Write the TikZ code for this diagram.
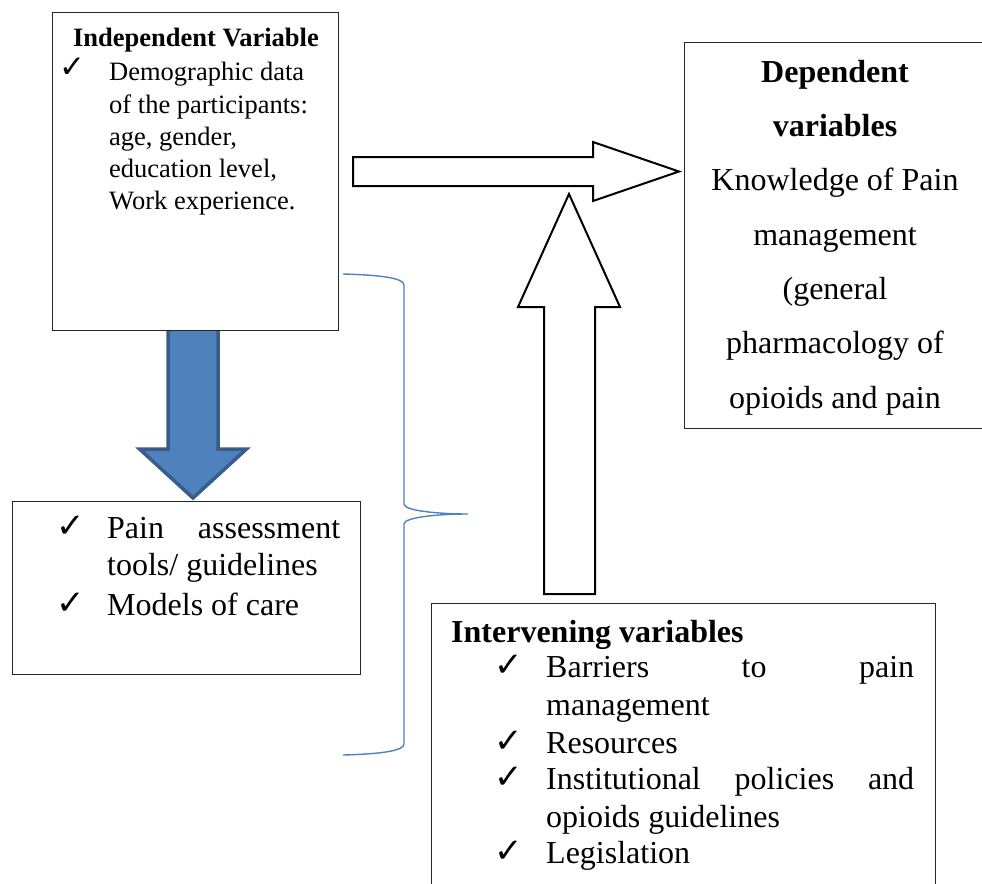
\documentclass[tikz,border=0pt]{standalone}
\usepackage{fontspec}
\setmainfont{Liberation Serif}
\newfontfamily\checkfont{DejaVu Sans}
\usetikzlibrary{calc}
\definecolor{accentblue}{HTML}{4F81BD}
\definecolor{accentdark}{HTML}{385D8A}
\begin{document}
\begin{tikzpicture}[x=1pt,y=-1pt,
  frame/.style={draw=black!85, line width=0.9pt, fill=white, inner sep=0pt},
  body/.style={inner sep=0pt, anchor=base west, font=\fontsize{32}{38}\selectfont},
  bodybold/.style={inner sep=0pt, anchor=base west, font=\fontsize{32}{38}\selectfont\bfseries},
  small/.style={inner sep=0pt, anchor=base west, font=\fontsize{26.5}{32}\selectfont},
  smallbold/.style={inner sep=0pt, anchor=base, font=\fontsize{26.5}{32}\selectfont\bfseries},
  tick/.style={inner sep=0pt, anchor=center, font=\checkfont\fontsize{34}{34}\selectfont},
  smalltick/.style={tick, font=\checkfont\fontsize{31}{31}\selectfont},
  hollow/.style={draw=black, line width=2pt, fill=white, line join=miter},
  bluearrow/.style={draw=accentdark, line width=3.5pt, fill=accentblue, line join=miter},
  brace/.style={draw=accentblue, line width=1.4pt}]
\useasboundingbox (0,0) rectangle (982,883);

% blue block arrow between the two left boxes (drawn first, boxes cover its ends)
\draw[bluearrow] (168,326) -- (168,449) -- (139.5,449) -- (193,498) -- (246.5,449) -- (218,449) -- (218,326) -- cycle;

% boxes
\node[frame, anchor=north west, minimum width=286pt, minimum height=318pt] (indep) at (52,12) {};
\node[frame, anchor=north west, minimum width=297.5pt, minimum height=386pt] (dep) at (684,42) {};
\node[frame, anchor=north west, minimum width=348pt, minimum height=173pt] (tools) at (12,501) {};
\node[frame, anchor=north west, minimum width=504pt, minimum height=310pt] (inter) at (431,603) {};

% hollow arrow towards the dependent variables
\coordinate (rTail) at (353,171.5);
\coordinate (rTip) at (679,171.5);
\draw[hollow] (rTail) ++(0,-14.5) -- ++(240,0) -- ++(0,-15) -- (rTip) -- ++(-86,29.5) -- ++(0,-15) -- ++(-240,0) -- cycle;

% hollow arrow rising from the intervening variables
\coordinate (uTail) at (569.5,594);
\coordinate (uTip) at (569,194);
\draw[hollow] (544,594) -- (544,307) -- (518,307) -- (uTip) -- (620,307) -- (595,307) -- (595,594) -- cycle;

% curly brace
\draw[brace] (343,274) .. controls (380,275) and (404,278) .. (404,285)
  -- (404,504) .. controls (404,511) and (440,514) .. (468,514)
  .. controls (440,514) and (404,517) .. (404,524)
  -- (404,744) .. controls (404,751) and (380,754) .. (343,755);

% independent variable
\node[smallbold] (indepHead) at (196,47) {Independent Variable};
\node[smalltick] (indepTick) at (72,68) {✓};
\node[small] (indepL1) at (109,81) {Demographic data};
\node[small] (indepL2) at (109,113) {of the participants:};
\node[small] (indepL3) at (109,145) {age, gender,};
\node[small] (indepL4) at (109,177) {education level,};
\node[small] (indepL5) at (109,209) {Work experience.};

% dependent variables
\node[bodybold, anchor=base] (depH1) at (835,82) {Dependent};
\node[bodybold, anchor=base] (depH2) at (835,136) {variables};
\node[body, anchor=base] (depL1) at (835,190.5) {Knowledge of Pain};
\node[body, anchor=base] (depL2) at (835,245) {management};
\node[body, anchor=base] (depL3) at (835,299) {(general};
\node[body, anchor=base] (depL4) at (835,353.5) {pharmacology of};
\node[body, anchor=base] (depL5) at (835,408) {opioids and pain};

% tools and models of care
\node[tick] (toolsTick1) at (71,527) {✓};
\node[body] (toolsL1) at (107,538) {\makebox[233pt][s]{Pain assessment}};
\node[body] (toolsL2) at (107,575) {tools/ guidelines};
\node[tick] (toolsTick2) at (71,604) {✓};
\node[body] (toolsL3) at (107,615) {Models of care};

% intervening variables
\node[bodybold] (interHead) at (451,642) {Intervening variables};
\node[tick] (interTick1) at (509,666) {✓};
\node[body] (interL1) at (546,677) {\makebox[368pt][s]{Barriers to pain}};
\node[body] (interL2) at (546,715) {management};
\node[tick] (interTick2) at (509,742) {✓};
\node[body] (interL3) at (546,753) {Resources};
\node[tick] (interTick3) at (509,778) {✓};
\node[body] (interL4) at (546,789) {\makebox[368pt][s]{Institutional policies and}};
\node[body] (interL5) at (546,827) {opioids guidelines};
\node[tick] (interTick4) at (509,852) {✓};
\node[body] (interL6) at (546,863) {Legislation};
\end{tikzpicture}
\end{document}
